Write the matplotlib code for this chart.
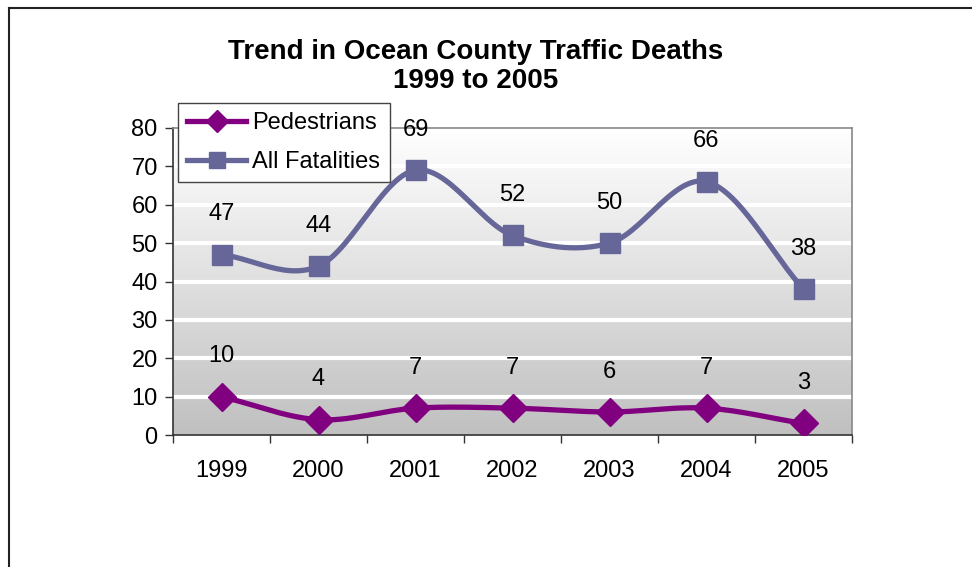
import numpy as np
import matplotlib
matplotlib.use("Agg")
import matplotlib.pyplot as plt
from matplotlib.lines import Line2D
from matplotlib.colors import LinearSegmentedColormap

plt.rcParams['font.family'] = ['Liberation Sans', 'DejaVu Sans']

years = ["1999", "2000", "2001", "2002", "2003", "2004", "2005"]
pedestrians = [10, 4, 7, 7, 6, 7, 3]
all_fatalities = [47, 44, 69, 52, 50, 66, 38]
y_ticks = [0, 10, 20, 30, 40, 50, 60, 70, 80]

PED_COLOR = "#800080"
ALL_COLOR = "#666699"
FS = 17


def smooth(xs, ys, n=30):
    xs = np.asarray(xs, float)
    ys = np.asarray(ys, float)
    px = np.concatenate([[2 * xs[0] - xs[1]], xs, [2 * xs[-1] - xs[-2]]])
    py = np.concatenate([[2 * ys[0] - ys[1]], ys, [2 * ys[-1] - ys[-2]]])
    ox, oy = [], []
    for i in range(1, len(px) - 2):
        t = np.linspace(0, 1, n, endpoint=False)
        for arr, out in ((px, ox), (py, oy)):
            p0, p1, p2, p3 = arr[i - 1], arr[i], arr[i + 1], arr[i + 2]
            m1 = (p2 - p0) / 2
            m2 = (p3 - p1) / 2
            h00 = 2 * t**3 - 3 * t**2 + 1
            h10 = t**3 - 2 * t**2 + t
            h01 = -2 * t**3 + 3 * t**2
            h11 = t**3 - t**2
            out.extend(h00 * p1 + h10 * m1 + h01 * p2 + h11 * m2)
    ox.append(xs[-1])
    oy.append(ys[-1])
    return np.array(ox), np.array(oy)


fig = plt.figure(figsize=(9.72, 5.67), dpi=100)
W, H = 972, 567

# outer chart border (only left and top visible)
fig.add_artist(Line2D([8.5 / W, 8.5 / W], [0, 1 - 8 / H], color="#222222", lw=1.5,
                      transform=fig.transFigure))
fig.add_artist(Line2D([8.5 / W, 1], [1 - 8 / H, 1 - 8 / H], color="#222222", lw=1.5,
                      transform=fig.transFigure))

left, right, top, bottom = 173, 852, 128, 435
ax = fig.add_axes([left / W, 1 - bottom / H, (right - left) / W, (bottom - top) / H])

x = np.arange(len(years))
ax.set_xlim(-0.5, len(years) - 0.5)
ax.set_ylim(0, 80)

grad = np.linspace(0, 1, 256).reshape(-1, 1)
cmap = LinearSegmentedColormap.from_list("g", ["#c0c0c0", "#ffffff"])
ax.imshow(grad, aspect="auto", cmap=cmap, origin="lower",
          extent=[-0.5, len(years) - 0.5, 0, 80], zorder=0)

for yt in y_ticks[1:-1]:
    ax.axhline(yt, color="white", lw=3, zorder=1)

sx, sy = smooth(x, all_fatalities)
ax.plot(sx, sy, color=ALL_COLOR, lw=3.8, zorder=3, solid_capstyle="round")
ax.plot(x, all_fatalities, ls="none", marker="s", ms=15, color=ALL_COLOR, zorder=4)

px_, py_ = smooth(x, pedestrians)
ax.plot(px_, py_, color=PED_COLOR, lw=3.8, zorder=3, solid_capstyle="round")
ax.plot(x, pedestrians, ls="none", marker="D", ms=14, color=PED_COLOR, zorder=4)

for xi, v in zip(x, all_fatalities):
    ax.annotate(str(v), (xi, v), xytext=(0, 29), textcoords="offset points",
                ha="center", va="center", fontsize=FS, zorder=6, annotation_clip=False)
for xi, v in zip(x, pedestrians):
    ax.annotate(str(v), (xi, v), xytext=(0, 29), textcoords="offset points",
                ha="center", va="center", fontsize=FS, zorder=6)

ax.set_yticks(y_ticks)
ax.set_yticklabels([str(v) for v in y_ticks], fontsize=FS)
ax.set_xticks(x)
ax.set_xticklabels(years, fontsize=FS)
ax.set_xticks(np.arange(len(years) + 1) - 0.5, minor=True)
ax.tick_params(axis="x", which="major", length=0, pad=18)
ax.tick_params(axis="x", which="minor", length=6, width=1, color="#333333", direction="out")
ax.tick_params(axis="y", length=6, width=1, color="#333333", direction="out", pad=5)

for s in ("left", "bottom"):
    ax.spines[s].set_color("#333333")
    ax.spines[s].set_linewidth(1.2)
for s in ("right", "top"):
    ax.spines[s].set_color("#888888")
    ax.spines[s].set_linewidth(1.2)

fig.text(476 / W, 1 - 59 / H, "Trend in Ocean County Traffic Deaths", ha="center", va="baseline",
         fontsize=20, fontweight="bold")
fig.text(476 / W, 1 - 88 / H, "1999 to 2005", ha="center", va="baseline",
         fontsize=20, fontweight="bold")

handles = [Line2D([], [], color=PED_COLOR, lw=3.8, marker="D", ms=11),
           Line2D([], [], color=ALL_COLOR, lw=3.8, marker="s", ms=11)]
leg = fig.legend(handles, ["Pedestrians", "All Fatalities"], loc="upper left",
                 bbox_to_anchor=(178 / W, 1 - 103 / H), fontsize=FS, frameon=True,
                 fancybox=False, framealpha=1, edgecolor="#444444", handlelength=2.5,
                 borderpad=0.4, labelspacing=0.7, handletextpad=0.25, borderaxespad=0)
leg.get_frame().set_linewidth(1.0)
leg.set_zorder(10)

fig.savefig("out.png", dpi=100)
